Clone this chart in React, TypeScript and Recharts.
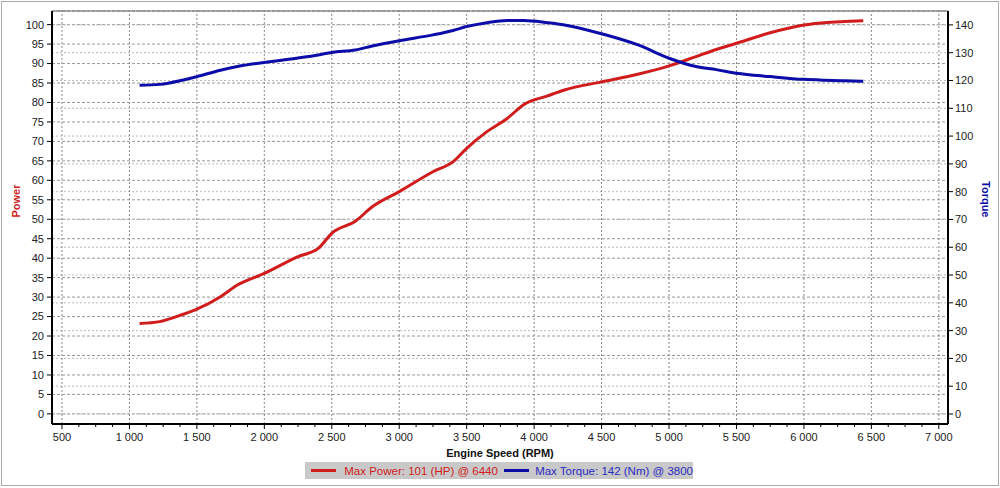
import React from 'react';
import { LineChart, Line, XAxis, YAxis, CartesianGrid, ReferenceLine } from 'recharts';

// engine speed samples (rpm) and the two curves read at those points
const rpm = [1075, 1225, 1400, 1500, 1675, 1800, 2000, 2250, 2400, 2500, 2675, 2800, 3000, 3250, 3400, 3500, 3650, 3800, 3925, 4100, 4225, 4500, 4775, 5000, 5200, 5350, 5500, 5750, 6000, 6150, 6300, 6440];
const powerHp = [23.2, 23.7, 25.6, 26.9, 30.1, 33.1, 36.1, 40.4, 42.5, 46.4, 49.5, 53.2, 57.1, 62.2, 64.8, 68.2, 72.5, 75.9, 79.5, 81.7, 83.2, 85.3, 87.3, 89.4, 91.8, 93.6, 95.2, 97.9, 99.9, 100.5, 100.8, 101.0];
const torqueNm = [118.3, 118.6, 120.2, 121.4, 123.7, 125.0, 126.5, 128.1, 129.2, 130.1, 131.0, 132.4, 134.3, 136.4, 138.0, 139.4, 140.8, 141.6, 141.6, 140.8, 140.0, 136.8, 132.7, 128.0, 125.0, 123.9, 122.6, 121.4, 120.4, 120.1, 119.9, 119.7];

const rpmMajor = [500, 1000, 1500, 2000, 2500, 3000, 3500, 4000, 4500, 5000, 5500, 6000, 6500, 7000];
const rpmMinor = [500, 625, 750, 875, 1000, 1125, 1250, 1375, 1500, 1625, 1750, 1875, 2000, 2125, 2250, 2375, 2500, 2625, 2750, 2875, 3000, 3125, 3250, 3375, 3500, 3625, 3750, 3875, 4000, 4125, 4250, 4375, 4500, 4625, 4750, 4875, 5000, 5125, 5250, 5375, 5500, 5625, 5750, 5875, 6000, 6125, 6250, 6375, 6500, 6625, 6750, 6875, 7000];
const powerTicks = [0, 5, 10, 15, 20, 25, 30, 35, 40, 45, 50, 55, 60, 65, 70, 75, 80, 85, 90, 95, 100];
const torqueTicks = [0, 10, 20, 30, 40, 50, 60, 70, 80, 90, 100, 110, 120, 130, 140];

const data = rpm.map((r, i) => ({ rpm: r, power: powerHp[i], torque: torqueNm[i] }));

const RED = '#d01c1c';
const BLUE = '#0c0ca8';
const FONT = '"Liberation Sans", Arial, sans-serif';

const fmtRpm = (n: number) =>
  n >= 1000 ? `${Math.floor(n / 1000)} ${String(n % 1000).padStart(3, '0')}` : String(n);

const XTick = (props: any) => {
  const { x, y, payload } = props;
  const major = payload.value % 500 === 0;
  return (
    <g>
      <line x1={x} x2={x} y1={y} y2={y + (major ? 5 : 3)} stroke="#000" strokeWidth={1} />
      {major && (
        <text x={x} y={y + 17} textAnchor="middle" fontSize={11} fill="#222" fontFamily={FONT}>
          {fmtRpm(payload.value)}
        </text>
      )}
    </g>
  );
};

const App = () => {
  return (
    <div style={{ position: 'absolute', left: 0, top: 0, width: 1000, height: 488, background: '#fff', fontFamily: FONT }}>
      <div style={{ position: 'absolute', left: 1, top: 1, width: 996, height: 483, border: '1px solid #aaa' }} />
      <LineChart width={1000} height={488} data={data} margin={{ top: 11, right: 0, bottom: 0, left: 0 }}>
        <CartesianGrid yAxisId="power" vertical={false} stroke="#999" strokeDasharray="3 2" />
        <CartesianGrid yAxisId="torque" vertical={false} stroke="#bbb" strokeDasharray="2 2" />
        {rpmMajor.map((r) => (
          <ReferenceLine key={r} x={r} yAxisId="power" stroke="#888" strokeDasharray="2 2" />
        ))}
        <ReferenceLine y={103.5} yAxisId="power" stroke="#666" />
        <XAxis
          dataKey="rpm"
          type="number"
          domain={[426, 7068]}
          ticks={rpmMinor}
          interval={0}
          allowDataOverflow
          height={64}
          tickSize={0}
          tickMargin={0}
          tickLine={false}
          tick={<XTick />}
          axisLine={{ stroke: '#000', strokeWidth: 2 }}
          label={{ value: 'Engine Speed (RPM)', position: 'insideBottom', offset: 31, fontSize: 11, fontWeight: 'bold', fill: '#111', fontFamily: FONT }}
        />
        <YAxis
          yAxisId="power"
          orientation="left"
          type="number"
          domain={[-2.6, 103.5]}
          ticks={powerTicks}
          interval={0}
          allowDataOverflow
          width={52}
          tickSize={5}
          tickMargin={3}
          tick={{ fontSize: 11, fill: '#222', fontFamily: FONT }}
          tickLine={{ stroke: '#000' }}
          axisLine={{ stroke: '#000', strokeWidth: 2 }}
          label={{ value: 'Power', angle: -90, position: 'insideLeft', offset: 16, fontSize: 11, fontWeight: 'bold', fill: RED, fontFamily: FONT }}
        />
        <YAxis
          yAxisId="torque"
          orientation="right"
          type="number"
          domain={[-3.6, 145]}
          ticks={torqueTicks}
          interval={0}
          allowDataOverflow
          width={52}
          tickSize={5}
          tickMargin={2}
          tick={{ fontSize: 11, fill: '#222', fontFamily: FONT }}
          tickLine={{ stroke: '#000' }}
          axisLine={{ stroke: '#000', strokeWidth: 2 }}
          label={{ value: 'Torque', angle: 90, position: 'insideRight', offset: 14, fontSize: 11, fontWeight: 'bold', fill: BLUE, fontFamily: FONT }}
        />
        <Line yAxisId="power" dataKey="power" type="monotone" stroke={RED} strokeWidth={3} dot={false} isAnimationActive={false} />
        <Line yAxisId="torque" dataKey="torque" type="monotone" stroke={BLUE} strokeWidth={3} dot={false} isAnimationActive={false} />
      </LineChart>
      <div
        style={{
          position: 'absolute', left: 305, top: 462, width: 388, height: 17, background: '#c9c9c9',
          display: 'flex', alignItems: 'center', fontSize: 11.5, whiteSpace: 'nowrap',
        }}
      >
        <span style={{ display: 'inline-block', width: 40, height: 3, background: RED, marginLeft: 6, marginRight: 8 }} />
        <span style={{ color: RED }}>Max Power: 101 (HP) @ 6440</span>
        <span style={{ display: 'inline-block', width: 40, height: 3, background: BLUE, marginLeft: 6, marginRight: 6 }} />
        <span style={{ color: '#2a2ac0' }}>Max Torque: 142 (Nm) @ 3800</span>
      </div>
    </div>
  );
};

export default App;
